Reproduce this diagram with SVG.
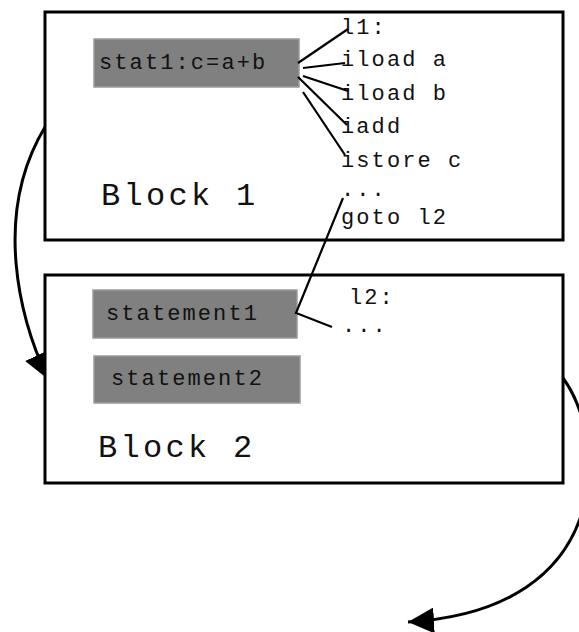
<svg xmlns="http://www.w3.org/2000/svg" width="579" height="632" viewBox="0 0 579 632">
  <style>
    .block { fill: #ffffff; stroke: #000000; stroke-width: 3; }
    .stmt { fill: #808080; stroke: #9a9a9a; stroke-width: 1.5; }
    .code { font-family: "Liberation Mono", "DejaVu Sans Mono", monospace; font-size: 22px; letter-spacing: 2.1px; fill: #111111; }
    .title { font-family: "Liberation Mono", "DejaVu Sans Mono", monospace; font-size: 32px; letter-spacing: 3.3px; fill: #111111; }
    .link { fill: none; stroke: #000000; stroke-width: 2.2; }
    .flow { fill: none; stroke: #000000; stroke-width: 3; }
  </style>
  <defs>
    <marker id="arrow" markerUnits="userSpaceOnUse" viewBox="-26 -13 26 26" markerWidth="26" markerHeight="26" refX="0" refY="0" orient="auto">
      <path d="M0,0 L-26,-13 L-26,13 Z" fill="#000000"/>
    </marker>
    <!-- the flow arrows pass behind the blocks: hide them inside the block areas -->
    <clipPath id="outside-blocks">
      <path clip-rule="evenodd" d="M-10,-10H600V650H-10Z M45,12H563V240H45Z M45,275H563V483H45Z"/>
    </clipPath>
  </defs>

  <g id="block1">
    <rect class="block" x="45" y="12" width="518" height="228"/>
    <text class="title" x="101" y="205">Block 1</text>
  </g>

  <g id="stat1">
    <rect class="stmt" x="94" y="39" width="205" height="48"/>
    <text class="code" x="99" y="69">stat1:c=a+b</text>
  </g>

  <g id="code1">
    <text class="code" x="341" y="34">l1:</text>
    <text class="code" x="341" y="66">iload a</text>
    <text class="code" x="341" y="100">iload b</text>
    <text class="code" x="341" y="133">iadd</text>
    <text class="code" x="341" y="167">istore c</text>
    <text class="code" x="341" y="196">...</text>
    <text class="code" x="341" y="224">goto l2</text>
  </g>

  <g id="block2">
    <rect class="block" x="45" y="275" width="518" height="208"/>
    <text class="title" x="98" y="457">Block 2</text>
  </g>

  <g id="statement1">
    <rect class="stmt" x="93" y="290" width="204" height="48"/>
    <text class="code" x="106" y="320">statement1</text>
  </g>

  <g id="statement2">
    <rect class="stmt" x="94" y="356" width="206" height="47"/>
    <text class="code" x="111" y="385">statement2</text>
  </g>

  <g id="code2">
    <text class="code" x="349" y="304">l2:</text>
    <text class="code" x="342" y="332">...</text>
  </g>

  <g id="connectors">
    <!-- stat1 to its bytecode -->
    <line class="link" x1="298" y1="63" x2="348" y2="29"/>
    <line class="link" x1="303" y1="68" x2="345" y2="63"/>
    <line class="link" x1="303" y1="76" x2="348" y2="91"/>
    <line class="link" x1="298" y1="77" x2="347" y2="125"/>
    <line class="link" x1="303" y1="92" x2="345" y2="155"/>
    <!-- goto l2 jumps to statement1 -->
    <polyline class="link" points="343,198 296,313 332,327"/>
    <!-- control flow between blocks -->
    <g clip-path="url(#outside-blocks)">
      <path class="flow" d="M45,127 C-8,215 20,320 48,379" marker-end="url(#arrow)"/>
      <path class="flow" d="M563,378 C608,440 615,610 408,622" marker-end="url(#arrow)"/>
    </g>
  </g>
</svg>
